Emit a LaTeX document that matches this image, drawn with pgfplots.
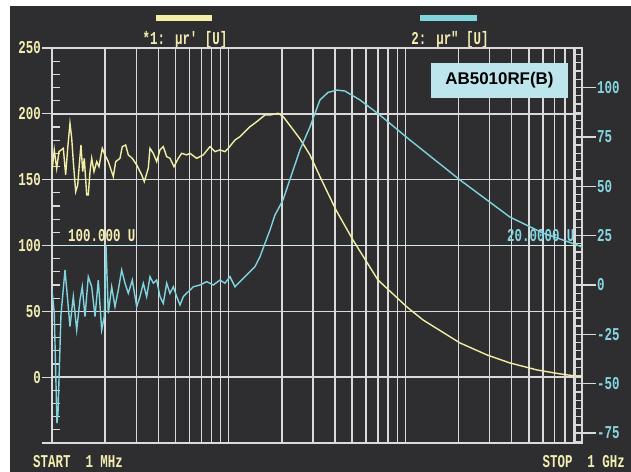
\documentclass[border=0pt]{standalone}
\usepackage{pgfplots}
\pgfplotsset{compat=1.18}
\usepackage{fontspec}
\usepackage{graphicx}
\setmainfont{Liberation Sans}
\newfontfamily\mono{Liberation Mono}
\definecolor{bgc}{HTML}{2E2E31}
\definecolor{gridc}{HTML}{DADADA}
\definecolor{ycurve}{HTML}{F2EFA4}
\definecolor{ccurve}{HTML}{7FD4DE}
\definecolor{ylab}{HTML}{F2EDB0}
\definecolor{clab}{HTML}{86D6E2}
\definecolor{boxc}{HTML}{BDE6EC}
\definecolor{refc}{HTML}{CDEFF2}
\newcommand\lbl[1]{\scalebox{1}[1.45]{\fontsize{12.5}{14}\mono\bfseries #1}}
\begin{document}
\begin{tikzpicture}[x=1bp,y=1bp]
\useasboundingbox (0,0) rectangle (631,472);
\fill[white] (0,0) rectangle (631,472);
\fill[bgc] (10,0) rectangle (631,466);
% legend bars and titles
\fill[ycurve] (156,451) rectangle (212,457);
\fill[ccurve] (420,451) rectangle (477,457);
\node[text=ylab] at (185,432) {\lbl{*1: μr' [U]}};
\node[text=ylab] at (450,432) {\lbl{2: μr" [U]}};
\begin{axis}[
  at={(52bp,29bp)}, anchor=south west, scale only axis,
  width=530bp, height=395bp,
  xmode=log, xmin=1, xmax=1000, ymin=-50, ymax=250,
  axis line style={gridc, line width=1.5bp},
  xmajorgrids, xminorgrids, ymajorgrids,
  major grid style={gridc, line width=1.5bp},
  minor grid style={gridc, line width=1.5bp},
  xtick={1,10,100,1000}, xticklabels={},
  minor xtick={2,3,4,5,6,7,8,9,20,30,40,50,60,70,80,90,200,300,400,500,600,700,800,900},
  xtick style={draw=none},
  ytick={-50,0,50,100,150,200,250},
  yticklabels={{},\lbl{0},\lbl{50},\lbl{100},\lbl{150},\lbl{200},\lbl{250}},
  minor ytick={-40,-30,...,240},
  ytick pos=left,
  tick align=outside,
  major tick length=10bp,
  minor tick length=8bp,
  tick style={gridc, line width=1.3bp},
  minor tick style={xshift=8bp},
  yticklabel style={text=ylab, inner sep=1bp},
]
\draw[refc, line width=1.5bp] (axis cs:1,100) -- (axis cs:1000,100);
\addplot[ycurve, line width=1.4bp] coordinates {
(1.000,156.0) (1.030,172.6) (1.063,158.6) (1.095,171.3) (1.159,173.8)
(1.195,153.6) (1.227,173.8) (1.264,192.8) (1.293,181.4) (1.320,163.7)
(1.362,140.9) (1.398,146.0) (1.427,161.2) (1.459,176.3) (1.492,156.1)
(1.523,166.2) (1.572,138.4) (1.605,138.4) (1.641,156.1) (1.678,166.2)
(1.729,156.1) (1.791,163.7) (1.845,159.9) (1.926,173.8) (1.995,168.8)
(2.083,163.7) (2.223,152.3) (2.294,163.7) (2.425,166.2) (2.499,175.1)
(2.613,176.3) (2.703,168.8) (2.848,166.2) (3.016,161.2) (3.219,153.6)
(3.330,148.5) (3.508,158.7) (3.586,173.8) (3.744,170.0) (3.913,163.7)
(4.086,172.6) (4.265,175.1) (4.458,167.5) (4.654,166.2) (4.902,159.9)
(5.185,166.2) (5.420,170.0) (5.785,168.8) (6.039,170.0) (6.591,166.2)
(7.182,168.8) (7.839,175.1) (8.366,171.3) (8.929,172.6) (9.530,171.3)
(9.948,173.8) (10.86,180.1) (11.59,182.7) (12.37,186.5) (13.20,190.2)
(14.41,194.0) (16.05,199.1) (17.13,199.1) (19.09,200.4) (20.37,197.8)
(21.75,192.8) (25.32,181.0) (28.84,168.8) (32.87,152.3) (40.49,127.0)
(50.52,104.2) (69.98,73.8) (102.1,53.3) (125.8,43.5) (203.7,26.0)
(289.6,16.9) (390.8,10.8) (555.6,5.5) (749.9,2.5) (1000,0.2)
};
\end{axis}
\begin{axis}[
  at={(52bp,29bp)}, anchor=south west, scale only axis,
  width=530bp, height=395bp,
  xmode=log, xmin=1, xmax=1000, ymin=-80, ymax=120,
  hide x axis,
  axis y line*=right,
  axis line style={-, gridc, line width=1.5bp},
  ytick={-75,-50,-25,0,25,50,75,100},
  yticklabels={\lbl{-75},\lbl{-50},\lbl{-25},\lbl{0},\lbl{25},\lbl{50},\lbl{75},\lbl{100}},
  minor ytick={-79.1667,-75,...,120},
  tick align=outside,
  major tick length=14bp,
  minor tick length=7bp,
  tick style={gridc, line width=1.3bp},
  minor tick style={xshift=-7bp},
  yticklabel style={text=clab, inner sep=1bp},
]
\draw[gridc, line width=1.2bp] ([xshift=-7bp]rel axis cs:1,0) -- ([xshift=-7bp]rel axis cs:1,1);
\addplot[ccurve, line width=1.4bp] coordinates {
(1.000,-2.5) (1.030,-14.3) (1.050,-45) (1.067,-70.0) (1.081,-65) (1.124,-15)
(1.185,7.6) (1.264,-21.0) (1.320,-5.9) (1.380,-22.8) (1.440,-7.6)
(1.484,-0.9) (1.537,-16.0) (1.605,4.2) (1.678,-0.9) (1.752,-16.0)
(1.828,2.5) (1.911,-22.8) (1.977,-16.0) (2.021,20.3) (2.083,-14.3)
(2.177,-0.9) (2.273,-11.0) (2.373,-2.5) (2.480,7.6) (2.589,0.9)
(2.703,-4.2) (2.848,2.5) (3.016,-11.0) (3.148,-5.9) (3.287,0.9)
(3.435,-5.9) (3.586,4.2) (3.744,0.9) (3.913,2.5) (4.086,-5.9)
(4.265,-9.3) (4.458,0.9) (4.654,-4.2) (4.859,-0.9) (5.079,-5.9)
(5.302,-10.1) (5.535,-5.9) (5.908,-3.4) (6.307,-0.9) (6.880,0.0)
(7.508,1.7) (8.184,0.0) (8.929,2.5) (9.530,0.9) (10.17,4.2)
(10.86,-0.9) (11.59,1.7) (12.37,4.2) (13.20,6.7) (14.09,9.3)
(15.04,14.3) (16.05,21.1) (17.13,27.8) (18.28,35.4) (20.29,43.0)
(25.32,68.4) (28.84,80.0) (32.87,93.7) (36.5,97.5) (41.03,98.7)
(45.52,98.2) (55.35,93.7) (71.82,86.0) (106.2,73.4) (147.1,63.3)
(203.7,53.2) (282.2,43.8) (390.8,34.4) (600.7,26.3) (935.7,20.3)
(1000,19.2)
};
\end{axis}
% annotations
\node[text=ylab, anchor=west, inner sep=0] at (68,236) {\lbl{100.000 U}};
\node[text=clab, anchor=west, inner sep=0] at (507,236) {\lbl{20.0000 U}};
\node[fill=boxc, minimum width=137bp, minimum height=35bp, inner sep=0,
  font=\fontsize{17}{20}\selectfont\bfseries] at (499.5,391.5) {AB5010RF(B)};
\node[text=ylab, anchor=base west, inner sep=0] at (33,4) {\lbl{START\ \ 1 MHz}};
\node[text=ylab, anchor=base east, inner sep=0] at (625,4) {\lbl{STOP\ \ 1 GHz}};
\end{tikzpicture}
\end{document}
